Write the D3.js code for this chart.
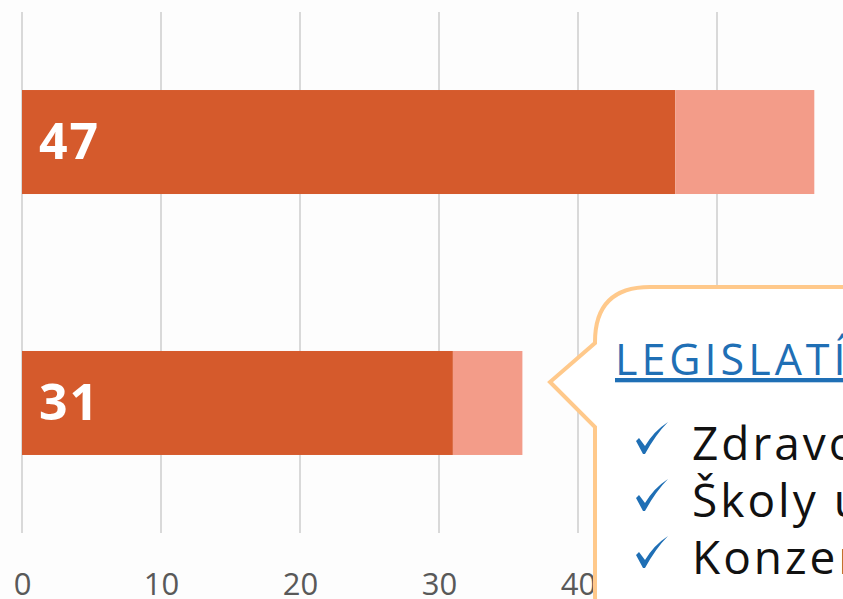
<!DOCTYPE html>
<html>
<head>
<meta charset="utf-8">
<script src="https://cdn.jsdelivr.net/npm/d3@7"></script>
<style>
  body { margin: 0; background: #fdfdfd; overflow: hidden; }
</style>
</head>
<body>
<div id="graph-container"></div>
<script>
// Chart data
var categories = ["A", "B"];
var doneValues = [47, 31];
var restValues = [10, 5];
var xTicks = [0, 10, 20, 30, 40, 50, 60];

// Callout text
var calloutTitle = "LEGISLATÍVA";
var calloutItems = ["Zdravotníctvo", "Školy u nás", "Konzervácia"];

var svgWidth = 843;
var svgHeight = 599;

var svg = d3.select("#graph-container")
  .append("svg")
  .attr("width", svgWidth)
  .attr("height", svgHeight)
  .style("display", "block");

svg.append("rect")
  .attr("width", svgWidth)
  .attr("height", svgHeight)
  .attr("fill", "#fdfdfd");

// Scales
var xScale = d3.scaleLinear().domain([0, 60]).range([22, 856]);
var yScale = d3.scaleBand()
  .domain(categories)
  .range([12, 533])
  .paddingInner(0.6015)
  .paddingOuter(0.299);

// Gridlines
svg.append("g")
  .selectAll("line")
  .data(xTicks)
  .enter()
  .append("line")
  .attr("x1", function (d) { return xScale(d); })
  .attr("x2", function (d) { return xScale(d); })
  .attr("y1", 12)
  .attr("y2", 533)
  .attr("stroke", "#d9d9d9")
  .attr("stroke-width", 2);

// X axis labels (the last one falls outside the picture)
var xAxis = d3.axisBottom(xScale).tickValues(xTicks.slice(0, 6)).tickSize(0).tickPadding(0);
var axisG = svg.append("g")
  .attr("transform", "translate(0,573)")
  .call(xAxis);
axisG.select(".domain").remove();
axisG.selectAll("text")
  .attr("dy", "0.71em")
  .attr("fill", "#595959")
  .style("font-family", "'Liberation Sans Narrow', 'Open Sans', sans-serif")
  .style("font-size", "31px");

// Bars
var rows = categories.map(function (c, i) {
  return { cat: c, done: doneValues[i], rest: restValues[i] };
});

svg.append("g")
  .selectAll("rect")
  .data(rows)
  .enter()
  .append("rect")
  .attr("x", xScale(0))
  .attr("y", function (d) { return yScale(d.cat); })
  .attr("width", function (d) { return xScale(d.done) - xScale(0); })
  .attr("height", yScale.bandwidth())
  .attr("fill", "#d55a2c");

svg.append("g")
  .selectAll("rect")
  .data(rows)
  .enter()
  .append("rect")
  .attr("x", function (d) { return xScale(d.done); })
  .attr("y", function (d) { return yScale(d.cat); })
  .attr("width", function (d) { return xScale(d.done + d.rest) - xScale(d.done); })
  .attr("height", yScale.bandwidth())
  .attr("fill", "#f39c89");

// Value labels
svg.append("g")
  .selectAll("text")
  .data(rows)
  .enter()
  .append("text")
  .attr("x", xScale(0) + 17)
  .attr("y", function (d) { return yScale(d.cat) + yScale.bandwidth() / 2 + 17; })
  .attr("fill", "#ffffff")
  .style("font-family", "'Open Sans', sans-serif")
  .style("font-weight", "bold")
  .style("font-size", "50px")
  .style("letter-spacing", "2px")
  .text(function (d) { return d.done; });

// Callout
var cx = 595, cy = 287, cr = 55, cb = 650, cRight = 900;
svg.append("path")
  .attr("d",
    "M" + (cx + cr) + "," + cy +
    " L" + cRight + "," + cy +
    " L" + cRight + "," + cb +
    " L" + (cx + cr) + "," + cb +
    " Q" + cx + "," + cb + " " + cx + "," + (cb - cr) +
    " L" + cx + ",427 L550,382 L" + cx + ",343" +
    " L" + cx + "," + (cy + cr) +
    " Q" + cx + "," + cy + " " + (cx + cr) + "," + cy + " Z")
  .attr("fill", "#ffffff")
  .attr("stroke", "#ffc98b")
  .attr("stroke-width", 4)
  .attr("stroke-linejoin", "miter");

svg.append("text")
  .attr("x", 615)
  .attr("y", 375)
  .attr("fill", "#1f6fb5")
  .style("font-family", "'Open Sans', sans-serif")
  .style("font-size", "43px")
  .style("letter-spacing", "4px")
  .style("text-decoration", "underline")
  .text(calloutTitle);

var items = svg.append("g")
  .selectAll("g")
  .data(calloutItems)
  .enter()
  .append("g")
  .attr("transform", function (d, i) { return "translate(0," + (460 + i * 57) + ")"; });

// check mark glyph
items.append("path")
  .attr("d", "M636,-19 L639,-22 L645,-14 Q654,-29 668,-38 Q656,-26 645,-6 L643,-6 Z")
  .attr("fill", "#1f6fb5");

items.append("text")
  .attr("x", 692)
  .attr("y", 0)
  .attr("fill", "#111111")
  .style("font-family", "'Open Sans', sans-serif")
  .style("font-size", "46px")
  .style("letter-spacing", "3px")
  .text(function (d) { return d; });
</script>
</body>
</html>
